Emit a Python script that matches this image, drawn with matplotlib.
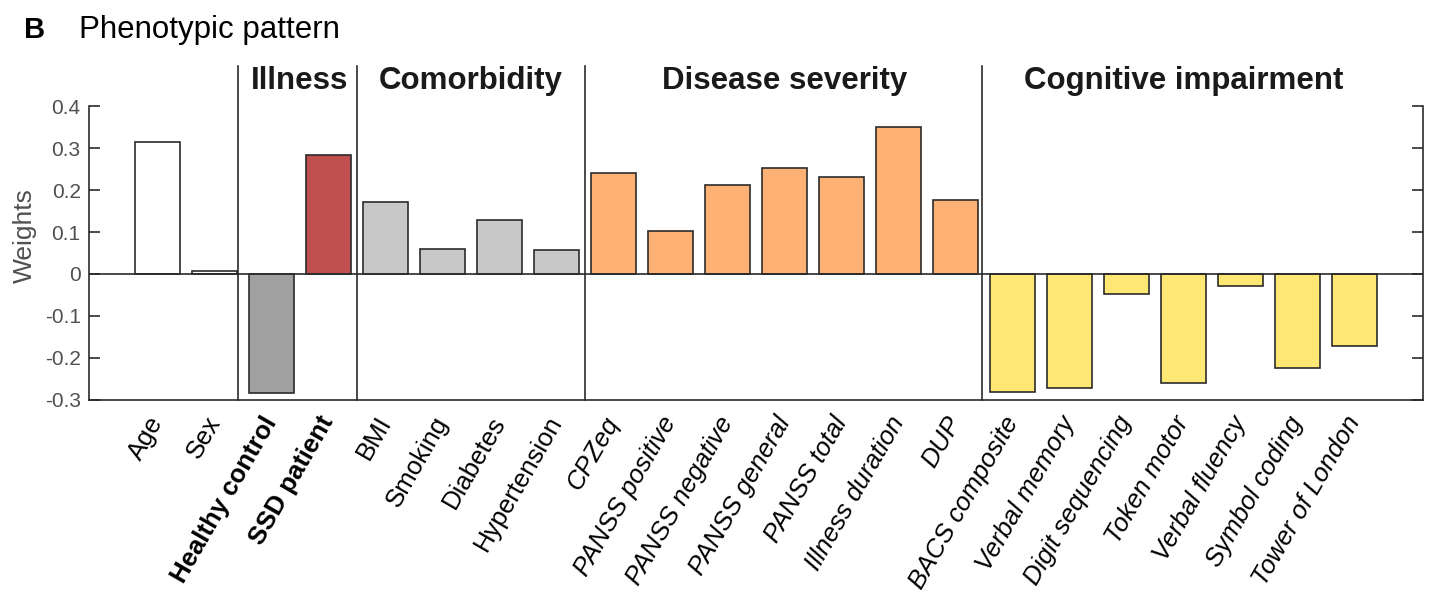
import matplotlib
matplotlib.use("Agg")
import matplotlib.pyplot as plt

plt.rcParams['font.family'] = ['Liberation Sans', 'DejaVu Sans']

# Feature names and their weights, grouped by domain
demo_labels = ["Age", "Sex"]
demo_weights = [0.314, 0.006]

illness_labels = ["Healthy control", "SSD patient"]
illness_weights = [-0.284, 0.283]

comorb_labels = ["BMI", "Smoking", "Diabetes", "Hypertension"]
comorb_weights = [0.171, 0.060, 0.129, 0.056]

severity_labels = ["CPZeq", "PANSS positive", "PANSS negative", "PANSS general",
                   "PANSS total", "Illness duration", "DUP"]
severity_weights = [0.240, 0.102, 0.213, 0.253, 0.230, 0.351, 0.176]

cog_labels = ["BACS composite", "Verbal memory", "Digit sequencing", "Token motor",
              "Verbal fluency", "Symbol coding", "Tower of London"]
cog_weights = [-0.281, -0.272, -0.048, -0.260, -0.028, -0.223, -0.171]

group_titles = ["Illness", "Comorbidity", "Disease severity", "Cognitive impairment"]

groups = [
    (demo_labels, demo_weights, "white", "normal", "normal"),
    (illness_labels, illness_weights, None, "bold", "normal"),
    (comorb_labels, comorb_weights, "#c8c8c8", "normal", "normal"),
    (severity_labels, severity_weights, "#fdb174", "normal", "italic"),
    (cog_labels, cog_weights, "#fee873", "normal", "italic"),
]

fig = plt.figure(figsize=(14.34, 5.93), dpi=100)
ax = fig.add_axes([0.0621, 0.3255, 0.9302, 0.4957])

edge = "#2b2b2b"
pos = 1
xticks, xlabels, styles = [], [], []
spans = []
for labels, weights, color, weight, style in groups:
    xs = list(range(pos, pos + len(labels)))
    if color is None:
        colors = ["#a0a0a0", "#c0504f"]
    else:
        colors = [color] * len(labels)
    ax.bar(xs, weights, width=0.8, color=colors, edgecolor=edge, linewidth=1.2, zorder=2)
    xticks += xs
    xlabels += labels
    styles += [(weight, style)] * len(labels)
    spans.append((xs[0], xs[-1]))
    pos += len(labels)

ax.set_xlim(-0.2, pos - 1 + 1.2)
ax.set_ylim(-0.3, 0.4)
ax.axhline(0, color=edge, linewidth=1.2, zorder=3)

# separators between domains, running up past the plot area
seps = [2.42, 4.5, 8.5, 15.47]
for s in seps:
    ax.plot([s, s], [-0.3, 0.495], color=edge, linewidth=1.2, clip_on=False, zorder=4)

# domain titles centred over their bars
for title, (a, b) in zip(group_titles, spans[1:]):
    ax.text((a + b) / 2, 0.46, title, ha="center", va="center",
            fontsize=22.5, fontweight="bold", color="#1a1a1a")

ax.set_yticks([-0.3, -0.2, -0.1, 0, 0.1, 0.2, 0.3, 0.4])
ax.set_yticklabels(["-0.3", "-0.2", "-0.1", "0", "0.1", "0.2", "0.3", "0.4"])
ax.tick_params(axis="y", direction="in", length=8, width=1.2, labelsize=15,
               colors=edge, right=True, pad=6)
for lab in ax.get_yticklabels():
    lab.set_color("#505050")
ax.set_ylabel("Weights", fontsize=19, color="#505050")
ax.yaxis.set_label_coords(-0.039, 0.56)

ax.set_xticks(xticks)
ax.set_xticklabels(xlabels, rotation=60, ha="right", va="center",
                   rotation_mode="anchor", fontsize=18.5)
ax.tick_params(axis="x", length=0, pad=13)
for lab, (w, st) in zip(ax.get_xticklabels(), styles):
    lab.set_fontweight(w)
    lab.set_fontstyle(st)

ax.spines["top"].set_visible(False)
for side in ["left", "right", "bottom"]:
    ax.spines[side].set_color(edge)
    ax.spines[side].set_linewidth(1.2)

fig.text(0.0167, 0.95, "B", fontsize=21, fontweight="bold", va="center")
fig.text(0.055, 0.95, "Phenotypic pattern", fontsize=22.5, va="center")

fig.savefig("out.png", dpi=100)
